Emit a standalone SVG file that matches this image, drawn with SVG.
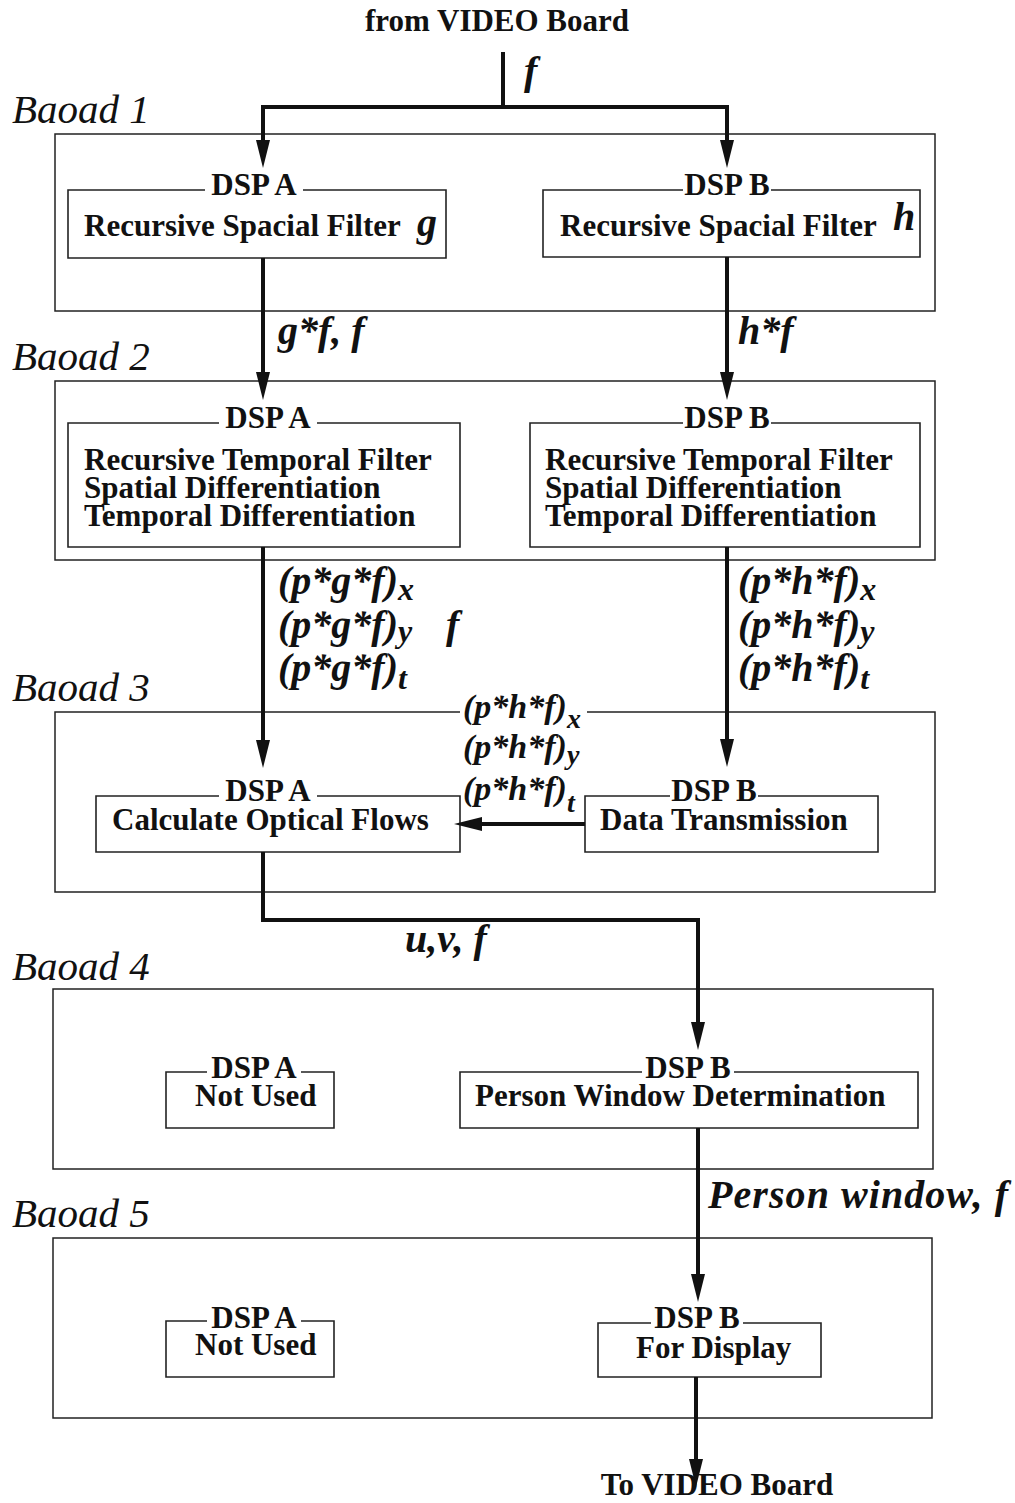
<svg xmlns="http://www.w3.org/2000/svg" width="1015" height="1503" viewBox="0 0 1015 1503">
<defs>
<marker id="ah" markerUnits="userSpaceOnUse" markerWidth="30" markerHeight="18" refX="0" refY="7" orient="auto" overflow="visible">
<path d="M0,0 L28,7 L0,14 Z" fill="#111"/>
</marker>
<marker id="ahs" markerUnits="userSpaceOnUse" markerWidth="30" markerHeight="18" refX="0" refY="7" orient="auto-start-reverse" overflow="visible">
<path d="M0,0 L28,7 L0,14 Z" fill="#111"/>
</marker>
</defs>
<style>
.board{fill:none;stroke:#222;stroke-width:1.5}
.box{fill:none;stroke:#222;stroke-width:1.6}
.t{font-family:"Liberation Serif","Times New Roman",serif;font-weight:bold;font-size:31px;fill:#111}
.lbl{font-family:"Liberation Serif","Times New Roman",serif;font-weight:bold;font-size:31px;fill:#111;text-anchor:middle}
.bd{font-family:"Liberation Serif","Times New Roman",serif;font-style:italic;font-size:41px;fill:#111}
.m{font-family:"Liberation Serif","Times New Roman",serif;font-style:italic;font-weight:bold;font-size:40px;fill:#111}
.ms{font-family:"Liberation Serif","Times New Roman",serif;font-style:italic;font-weight:bold;font-size:34px;fill:#111}
.c{fill:none;stroke:#111;stroke-width:4}
</style>
<rect width="1015" height="1503" fill="#fff"/>

<text class="lbl" x="497" y="31">from VIDEO Board</text>
<text class="m" x="524" y="84">f</text>

<g id="board1">
<text class="bd" x="12" y="123">Baoad 1</text>
<rect class="board" x="55" y="134" width="880" height="177"/>
</g>
<g id="b1dspA">
<path class="box" d="M205,190 H68 V258 H446 V190 H303"/>
<text class="lbl" x="254" y="195">DSP A</text>
<text class="t" x="84" y="236">Recursive Spacial Filter</text>
<text class="m" x="417" y="236">g</text>
</g>
<g id="b1dspB">
<path class="box" d="M683,190 H543 V257 H920 V190 H771"/>
<text class="lbl" x="727" y="195">DSP B</text>
<text class="t" x="560" y="236">Recursive Spacial Filter</text>
<text class="m" x="893" y="230">h</text>
</g>

<g id="board2">
<text class="bd" x="12" y="370">Baoad 2</text>
<rect class="board" x="55" y="381" width="880" height="179"/>
</g>
<g id="b2dspA">
<path class="box" d="M219,423 H68 V547 H460 V423 H317"/>
<text class="lbl" x="268" y="428">DSP A</text>
<text class="t" x="84" y="470">Recursive Temporal Filter</text>
<text class="t" x="84" y="498">Spatial Differentiation</text>
<text class="t" x="84" y="526">Temporal Differentiation</text>
</g>
<g id="b2dspB">
<path class="box" d="M683,423 H530 V547 H920 V423 H771"/>
<text class="lbl" x="727" y="428">DSP B</text>
<text class="t" x="545" y="470">Recursive Temporal Filter</text>
<text class="t" x="545" y="498">Spatial Differentiation</text>
<text class="t" x="545" y="526">Temporal Differentiation</text>
</g>

<g id="board3">
<text class="bd" x="12" y="701">Baoad 3</text>
<path class="board" d="M460,712 H55 V892 H935 V712 H587"/>
</g>
<g id="b3dspA">
<path class="box" d="M219,796 H96 V852 H460 V796 H317"/>
<text class="lbl" x="268" y="801">DSP A</text>
<text class="t" x="112" y="830">Calculate Optical Flows</text>
</g>
<g id="b3dspB">
<path class="box" d="M670,796 H585 V852 H878 V796 H758"/>
<text class="lbl" x="714" y="801">DSP B</text>
<text class="t" x="600" y="830">Data Transmission</text>
</g>

<g id="board4">
<text class="bd" x="12" y="980">Baoad 4</text>
<rect class="board" x="53" y="989" width="880" height="180"/>
</g>
<g id="b4dspA">
<path class="box" d="M207,1072 H166 V1128 H334 V1072 H301"/>
<text class="lbl" x="254" y="1078">DSP A</text>
<text class="t" x="195" y="1106">Not Used</text>
</g>
<g id="b4dspB">
<path class="box" d="M642,1072 H460 V1128 H918 V1072 H734"/>
<text class="lbl" x="688" y="1078">DSP B</text>
<text class="t" x="475" y="1106">Person Window Determination</text>
</g>

<g id="board5">
<text class="bd" x="12" y="1227">Baoad 5</text>
<rect class="board" x="53" y="1238" width="879" height="180"/>
</g>
<g id="b5dspA">
<path class="box" d="M207,1321 H166 V1377 H334 V1321 H301"/>
<text class="lbl" x="254" y="1328">DSP A</text>
<text class="t" x="195" y="1355">Not Used</text>
</g>
<g id="b5dspB">
<path class="box" d="M651,1323 H598 V1377 H821 V1323 H743"/>
<text class="lbl" x="697" y="1328">DSP B</text>
<text class="t" x="636" y="1358">For Display</text>
</g>

<text class="lbl" x="717" y="1495">To VIDEO Board</text>

<g id="connectors">
<path class="c" d="M503,52 V107"/>
<path class="c" d="M263,140 V107 H727 V140" marker-start="url(#ahs)" marker-end="url(#ah)"/>
<path class="c" d="M263,258 V372" marker-end="url(#ah)"/>
<path class="c" d="M727,257 V372" marker-end="url(#ah)"/>
<path class="c" d="M263,547 V740" marker-end="url(#ah)"/>
<path class="c" d="M727,547 V739" marker-end="url(#ah)"/>
<path class="c" d="M585,824 H482" marker-end="url(#ah)"/>
<path class="c" d="M263,852 V920 H698 V1022" marker-end="url(#ah)"/>
<path class="c" d="M698,1128 V1274" marker-end="url(#ah)"/>
<path class="c" d="M696,1377 V1459" marker-end="url(#ah)"/>
</g>

<g id="labels">
<text class="m" x="278" y="344">g*f, f</text>
<text class="m" x="738" y="344">h*f</text>
<text class="m" x="278" y="594">(p*g*f)<tspan font-size="32" dy="6">x</tspan></text>
<text class="m" x="278" y="638">(p*g*f)<tspan font-size="32" dy="4">y</tspan></text>
<text class="m" x="446" y="638">f</text>
<text class="m" x="278" y="681">(p*g*f)<tspan font-size="32" dy="8">t</tspan></text>
<text class="m" x="738" y="594">(p*h*f)<tspan font-size="32" dy="6">x</tspan></text>
<text class="m" x="738" y="638">(p*h*f)<tspan font-size="32" dy="4">y</tspan></text>
<text class="m" x="738" y="681">(p*h*f)<tspan font-size="32" dy="8">t</tspan></text>
<text class="ms" x="463" y="718">(p*h*f)<tspan font-size="28" dy="10">x</tspan></text>
<text class="ms" x="463" y="758">(p*h*f)<tspan font-size="28" dy="6">y</tspan></text>
<text class="ms" x="463" y="800">(p*h*f)<tspan font-size="28" dy="12">t</tspan></text>
<text class="m" x="405" y="952" font-size="38">u,v, f</text>
<text class="m" x="708" y="1208" font-size="41" textLength="300">Person window, f</text>
</g>
</svg>
